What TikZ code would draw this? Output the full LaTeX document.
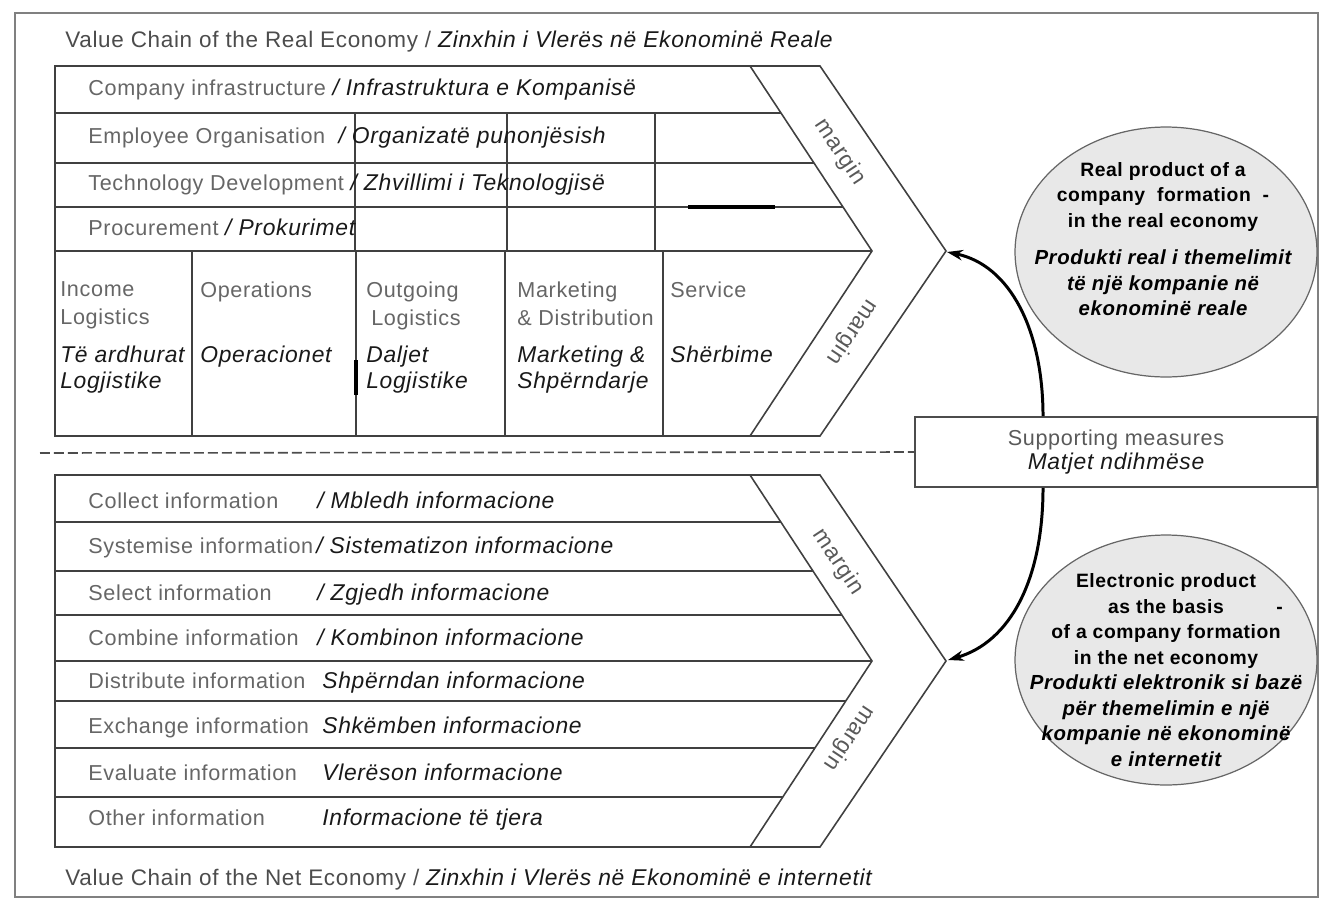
\documentclass[tikz,border=0pt]{standalone}
\usepackage{fontspec}
\setmainfont{Liberation Sans}[LetterSpace=3]
\usepackage{tikz}
\usetikzlibrary{shapes.geometric, arrows.meta}
\tikzset{
	entext/.style={font=\fontsize{12.3}{16}\selectfont\color{black!60}, inner sep=0pt}
}
\tikzset{
	altext/.style={font=\fontsize{13}{14.3}\selectfont\itshape\color{black!90}, inner sep=0pt}
}
\tikzset{
	rowtext/.style={anchor=west, text height=9pt, text depth=2.5pt},
	titletext/.style={font=\fontsize{12.8}{15}\selectfont\color{black!70}, inner sep=0pt, anchor=west, text height=9pt, text depth=2.5pt}
}
\tikzset{
	chevline/.style={draw=black!75, line width=0.9pt},
	frameline/.style={draw=black!50, line width=1.2pt},
	splitline/.style={draw=black!70, line width=0.9pt, dash pattern=on 0.2cm off 0.08cm},
	marginlabel/.style={font=\fontsize{13}{15}\selectfont\color{black!65}, inner sep=0pt},
	oval/.style={ellipse, draw=black!60, fill=black!9, line width=0.7pt, minimum width=6.04cm, minimum height=5cm},
	ovaltext/.style={font=\fontsize{11}{14.5}\selectfont\bfseries, align=center, inner sep=0pt},
	supportbox/.style={rectangle, draw=black!70, line width=0.9pt, minimum width=8.04cm, minimum height=1.4cm, align=center, font=\fontsize{12.3}{14}\selectfont\color{black!65}},
	bigarrow/.style={line width=1.7pt, -{Stealth[length=9pt, width=6pt]}}
}
\newcommand{\alb}[1]{{\fontsize{13}{15}\selectfont\color{black!90}\itshape #1}}
\newcommand{\albit}[1]{{\fontsize{11.6}{14.5}\selectfont\itshape #1}}

\begin{document}
\begin{tikzpicture}[x=0.02cm, y=-0.02cm]
  \useasboundingbox (0,0) rectangle (1327,899);
  \draw[frameline] (15,13) rectangle (1318,897);

  % real economy
  \node[titletext] (realtitle) at (65,42) {Value Chain of the Real Economy / \alb{Zinxhin i Vlerës në Ekonominë Reale}};
  \draw[chevline] (55,66) -- (820,66) -- (946,251) -- (820,436) -- (55,436) -- cycle;
  \draw[chevline] (750,66) -- (872,251) -- (750,436);
  \foreach \y/\xe in {113/781, 163/814, 207/843, 251/872}
    \draw[chevline] (55,\y) -- (\xe,\y);
  \foreach \x in {355, 507, 655}
    \draw[chevline] (\x,113) -- (\x,251);
  \foreach \x in {192, 356, 505, 663}
    \draw[chevline] (\x,251) -- (\x,436);
  \draw[line width=2pt] (688,207) -- (775,207);
  \draw[line width=2pt] (356,360) -- (356,395);

  \foreach \y/\txt [count=\i] in {90/{Company infrastructure \alb{/ Infrastruktura e Kompanisë}}, 138/{Employee Organisation \ \alb{/ Organizatë punonjësish}}, 185/{Technology Development \alb{/ Zhvillimi i Teknologjisë}}, 230/{Procurement \alb{/ Prokurimet}}}
    \node[entext, rowtext] (support\i) at (88,\y) {\txt};

  \foreach \x/\en/\al [count=\i] in {60/{Income\\Logistics}/{Të ardhurat\\Logjistike}, 200/{Operations}/{Operacionet}, 366/{Outgoing\\\hspace*{0.1cm}Logistics}/{Daljet\\Logjistike}, 517/{Marketing\\\& Distribution}/{Marketing \&\\Shpërndarje}, 670/{Service}/{Shërbime}}
  {
    \node[entext, anchor=north west, align=left] (act\i) at (\x,281) {\en};
    \node[altext, anchor=north west, align=left] (actal\i) at (\x,346) {\al};
  }

  % margins
  \foreach \x/\y/\r [count=\i] in {840/152/-56.6, 852/332/236.6, 838/562/-56.6, 849/738/236.6}
    \node[marginlabel, rotate=\r] (margin\i) at (\x,\y) {margin};

  % dividing line
  \coordinate (splitstart) at (40,453);

  % net economy
  \draw[chevline] (55,475) -- (820,475) -- (946,661) -- (820,847) -- (55,847) -- cycle;
  \draw[chevline] (750,475) -- (872,661) -- (750,847);
  \foreach \y/\xe in {522/781, 571/813, 615/842, 661/872, 701/846, 748/815, 797/783}
    \draw[chevline] (55,\y) -- (\xe,\y);

  \foreach \y/\xa/\en/\al [count=\i] in {
      503/317/{Collect information}/{/ Mbledh informacione},
      548/316/{Systemise information}/{/ Sistematizon informacione},
      595/317/{Select information}/{/ Zgjedh informacione},
      640/317/{Combine information}/{/ Kombinon informacione},
      683/322/{Distribute information}/{Shpërndan informacione},
      728/322/{Exchange information}/{Shkëmben informacione},
      775/322/{Evaluate information}/{Vlerëson informacione},
      820/322/{Other information}/{Informacione të tjera}}
  {
    \node[entext, rowtext] (neten\i) at (88,\y) {\en};
    \node[altext, rowtext] (netal\i) at (\xa,\y) {\al};
  }
  \node[titletext] (nettitle) at (65,880) {Value Chain of the Net Economy / \alb{Zinxhin i Vlerës në Ekonominë e internetit}};

  % products and supporting measures
  \node[oval] (realoval) at (1166,252) {};
  \node[ovaltext] (realtext) at (1163,239) {Real product of a\\company~~formation~~-\\in the real economy\\[7pt]\albit{Produkti real i themelimit}\\\albit{të një kompanie në}\\\albit{ekonominë reale}};
  \node[oval] (netoval) at (1166,660) {};
  \node[ovaltext] (nettext) at (1166,670) {Electronic product\\as the basis\rlap{\hspace{1.05cm}-}\\of a company formation\\in the net economy\\\albit{Produkti elektronik si bazë}\\\albit{për themelimin e një}\\\albit{kompanie në ekonominë}\\\albit{e internetit}};
  \node[supportbox] (support) at (1116,452) {Supporting measures\\\alb{Matjet ndihmëse}};

  \draw[splitline] (splitstart) -- (support.west);
  \coordinate (realtip) at (947,252);
  \coordinate (nettip) at (948,660);
  \draw[bigarrow] ([xshift=-1.46cm]support.north) .. controls (1043,330) and (1010,265) .. (realtip);
  \draw[bigarrow] ([xshift=-1.46cm]support.south) .. controls (1043,580) and (1010,642) .. (nettip);
\end{tikzpicture}
\end{document}
